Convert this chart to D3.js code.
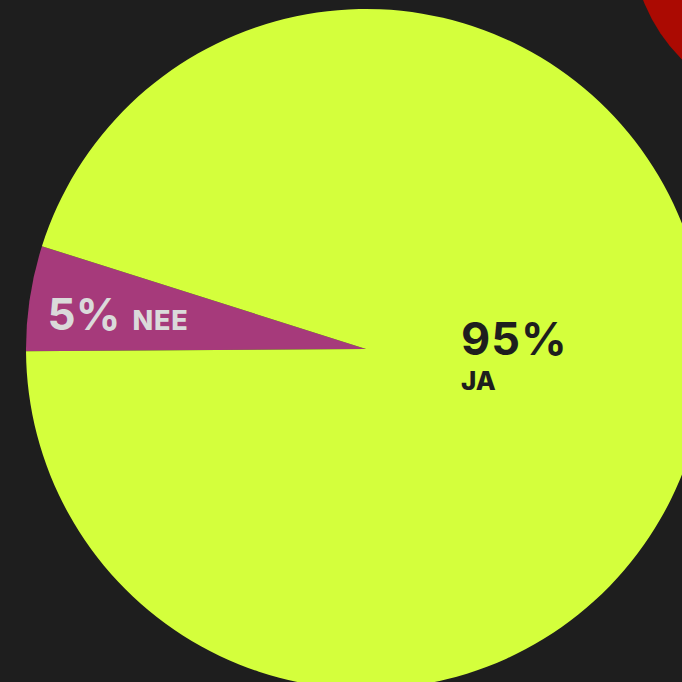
<!DOCTYPE html>
<html>
<head>
<meta charset="utf-8">
<script src="https://cdn.jsdelivr.net/npm/d3@7"></script>
<style>
  html, body { margin: 0; padding: 0; background: #1e1e1e; overflow: hidden; }
  svg { display: block; }
</style>
</head>
<body>
<svg id="chart" width="682" height="682"></svg>
<script>
// Answer shares
const categories = ["NEE", "JA"];
const values = [5, 95];
const percentLabels = ["5%", "95%"];
const colors = ["#a63a7b", "#d4ff3c"];
const textColors = ["#dadada", "#1e1e1e"];

// Neighbouring chart, only its edge shows in the corner
const neighbourValues = [100];
const neighbourColors = ["#ab0a02"];

const W = 682, H = 682;
const cx = 366, cy = 349, R = 340;

const svg = d3.select("#chart");
svg.append("rect").attr("width", W).attr("height", H).attr("fill", "#1e1e1e");

// neighbour pie (partially off-canvas)
const nPie = d3.pie().sort(null).value(d => d);
const nArc = d3.arc().innerRadius(0).outerRadius(168);
svg.append("g")
  .attr("transform", `translate(800,-60)`)
  .selectAll("path")
  .data(nPie(neighbourValues))
  .join("path")
  .attr("d", nArc)
  .attr("fill", (d, i) => neighbourColors[i]);

// main pie
const startDeg = 269.6;
const pie = d3.pie().sort(null).value(d => d)
  .startAngle(startDeg * Math.PI / 180)
  .endAngle((startDeg + 360) * Math.PI / 180);
const arcs = pie(values);
const arc = d3.arc().innerRadius(0).outerRadius(R);

const g = svg.append("g").attr("transform", `translate(${cx},${cy})`);
g.selectAll("path.slice")
  .data(arcs)
  .join("path")
  .attr("class", "slice")
  .attr("d", arc)
  .attr("fill", (d, i) => colors[i]);

// label anchor radii per slice
const labelRadius = [320, 97];
function anchor(d, i) {
  const a = (d.startAngle + d.endAngle) / 2;
  return [labelRadius[i] * Math.sin(a), -labelRadius[i] * Math.cos(a)];
}

const font = "Inter, Lato, sans-serif";

// small slice: percent and name on one line
{
  const d = arcs[0];
  const [x, y] = anchor(d, 0);
  const t = g.append("text")
    .attr("x", x - 2).attr("y", y + 29)
    .attr("fill", textColors[0])
    .attr("font-family", font);
  t.append("tspan").attr("font-size", 44).attr("font-weight", 700).text(percentLabels[0]);
  t.append("tspan").attr("font-size", 27).attr("font-weight", 800).attr("dx", 12).attr("letter-spacing", 0.8).text(categories[0]);
}

// large slice: percent over name
{
  const d = arcs[1];
  const [x, y] = anchor(d, 1);
  g.append("text")
    .attr("x", x - 1).attr("y", y - 8.5)
    .attr("fill", textColors[1])
    .attr("font-family", font)
    .attr("font-weight", 700)
    .attr("font-size", 45)
    .attr("letter-spacing", 1)
    .text(percentLabels[1]);
  g.append("text")
    .attr("x", x - 1).attr("y", y + 26.5)
    .attr("fill", textColors[1])
    .attr("font-family", font)
    .attr("font-weight", 800)
    .attr("font-size", 26)
    .text(categories[1]);
}
</script>
</body>
</html>
